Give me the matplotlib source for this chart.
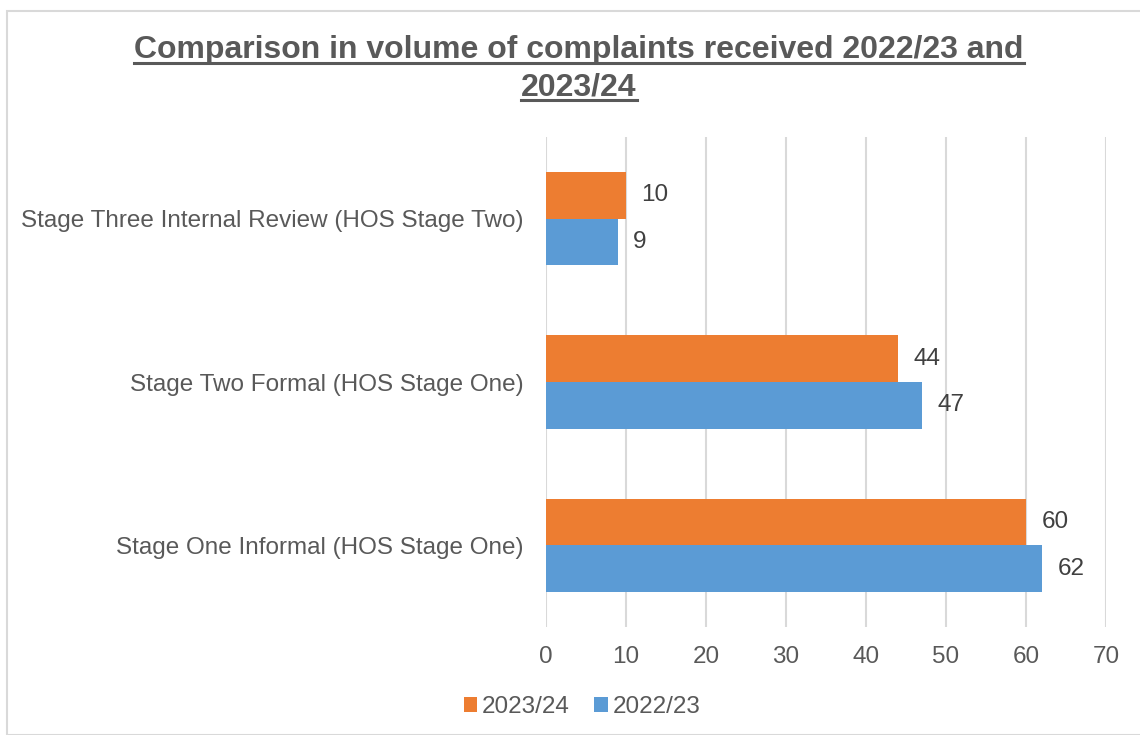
import matplotlib
matplotlib.use("Agg")
import matplotlib.pyplot as plt
from matplotlib.patches import Rectangle
import numpy as np

categories = ["Stage One Informal (HOS Stage One)",
              "Stage Two Formal (HOS Stage One)",
              "Stage Three Internal Review (HOS Stage Two)"]
series_names = ["2023/24", "2022/23"]
vals_2324 = [60, 44, 10]
vals_2223 = [62, 47, 9]
xticks = [0, 10, 20, 30, 40, 50, 60, 70]

orange = "#ed7d31"
blue = "#5b9bd5"
grey = "#595959"

plt.rcParams['font.family'] = ['Liberation Sans', 'DejaVu Sans']

fig = plt.figure(figsize=(11.4, 7.35), dpi=100)
W, H = 1140, 735

# outer chart border (only top and left visible in the crop)
fig.patches.append(Rectangle((6.5 / W, 0), 2, 1 - 10.5 / H, transform=fig.transFigure,
                             fill=False, edgecolor="#d9d9d9", linewidth=1.5))

ax = fig.add_axes([546 / W, 1 - 627 / H, 560 / W, 490 / H])
y = np.arange(len(categories))
h = 0.285
b1 = ax.barh(y + h / 2, vals_2324, height=h, color=orange, label=series_names[0], zorder=3)
b2 = ax.barh(y - h / 2, vals_2223, height=h, color=blue, label=series_names[1], zorder=3)

for bars in (b1, b2):
    for r in bars:
        ax.annotate(str(int(r.get_width())), (r.get_width(), r.get_y() + r.get_height() / 2),
                    xytext=(11, 0), textcoords="offset points", va="center", ha="left",
                    fontsize=17.5, color="#404040", zorder=4)

ax.set_xlim(0, 70)
ax.set_ylim(-0.5, 2.5)
ax.set_xticks(xticks)
ax.set_yticks(y)
ax.set_yticklabels(categories)
ax.tick_params(axis="both", length=0, labelsize=17.5, colors=grey)
ax.tick_params(axis="x", pad=14)
ax.tick_params(axis="y", pad=16)
ax.grid(axis="x", color="#d9d9d9", linewidth=1.5, zorder=0)
for s in ax.spines.values():
    s.set_visible(False)

# title, bold and underlined
t1 = fig.text(579 / W, 1 - 50 / H, "Comparison in volume of complaints received 2022/23 and",
              ha="center", va="center", fontsize=23, fontweight="bold", color=grey)
t2 = fig.text(579 / W, 1 - 87 / H, "2023/24",
              ha="center", va="center", fontsize=23, fontweight="bold", color=grey)
fig.canvas.draw()
r = fig.canvas.get_renderer()
for t in (t1, t2):
    bb = t.get_window_extent(r)
    yy = bb.y0 + 2
    fig.add_artist(plt.Line2D([bb.x0 / W, bb.x1 / W], [yy / H, yy / H],
                              transform=fig.transFigure, color=grey, linewidth=2.2))

fig.legend(handles=[b1, b2], labels=series_names, loc="center", bbox_to_anchor=(582 / W, 1 - 707 / H),
           ncol=2, frameon=False, fontsize=17.5, handlelength=0.55, handleheight=0.55,
           handletextpad=0.2, columnspacing=1.0, labelcolor=grey)

fig.savefig("out.png", dpi=100)
